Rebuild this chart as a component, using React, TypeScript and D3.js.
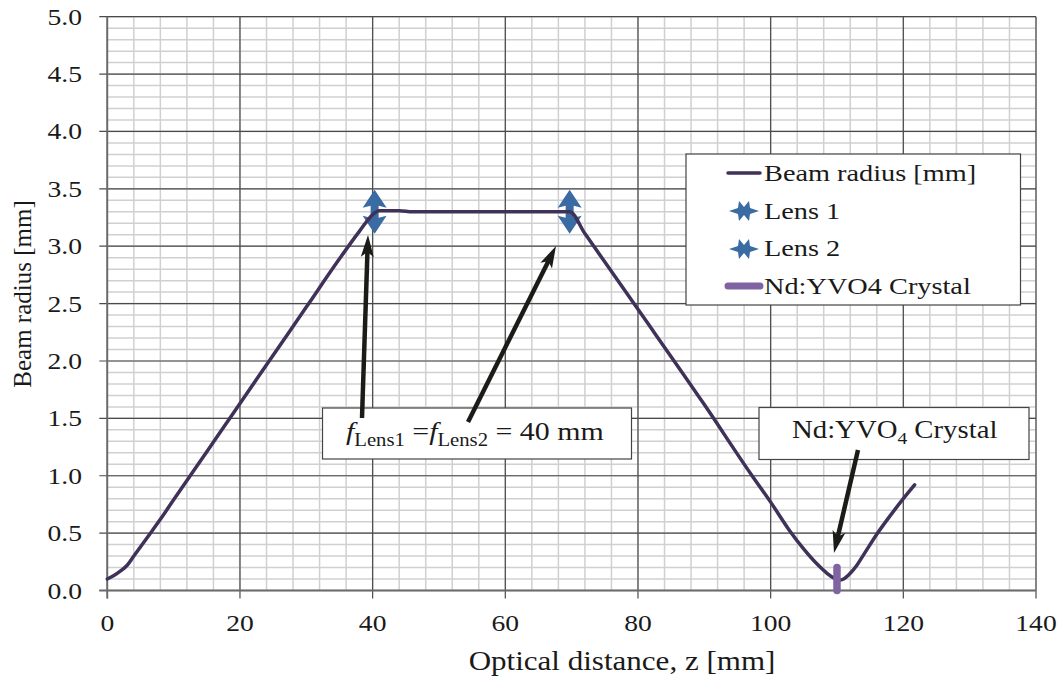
import React from "react";
import * as d3 from "d3";

const beamZ = [0, 1, 2, 3, 4, 6, 8, 10, 15, 20, 25, 30, 35, 38, 40.3, 41, 44, 46, 60, 69.7, 72, 80, 90, 97.2, 100, 103, 105, 107, 108.5, 109.5, 110.3, 111, 112, 113, 114, 116, 118, 120, 121.7];
const beamR = [0.10, 0.13, 0.17, 0.22, 0.30, 0.46, 0.62, 0.79, 1.21, 1.63, 2.05, 2.47, 2.89, 3.13, 3.29, 3.31, 3.31, 3.30, 3.30, 3.30, 3.11, 2.45, 1.62, 1.00, 0.77, 0.51, 0.36, 0.23, 0.15, 0.11, 0.09, 0.10, 0.15, 0.22, 0.31, 0.49, 0.65, 0.80, 0.92];
const lensZ = [40.3, 69.7];
const lensR = [3.3, 3.3];
const crystalZ = [110, 110];
const crystalR = [0, 0.2];
const xTicks = [0, 20, 40, 60, 80, 100, 120, 140];
const yTicks = [0, 0.5, 1.0, 1.5, 2.0, 2.5, 3.0, 3.5, 4.0, 4.5, 5.0];
const legendLabels = ["Beam radius [mm]", "Lens 1", "Lens 2", "Nd:YVO4 Crystal"];

const FONT = "Liberation Serif, Times New Roman, serif";
const BEAM = "#3f3157";
const LENS = "#3a6ba3";
const CRYSTAL = "#8064a2";
const SX = 1.15;

const starV = "M0,-22 L12,-4 L4,-6 L4,6 L12,4 L0,22 L-12,4 L-4,6 L-4,-6 L-12,-4 Z";
const starH = "M15,0 L6,3 L5,10 L0,4 L-5,10 L-6,3 L-15,0 L-6,-3 L-5,-10 L0,-4 L5,-10 L6,-3 Z";

function T({ x, y, size, anchor = "start", sx = SX, children }: { x: number; y: number; size: number; anchor?: string; sx?: number; children: React.ReactNode }) {
  return (
    <text transform={`translate(${x},${y}) scale(${sx},1)`} textAnchor={anchor as any} fontSize={size} fill="#1a1a1a" style={{ fontFamily: FONT }}>
      {children}
    </text>
  );
}

function Arrow({ x1, y1, x2, y2 }: { x1: number; y1: number; x2: number; y2: number }) {
  const ang = Math.atan2(y2 - y1, x2 - x1);
  const L = 22, W = 6.5;
  const bx = x2 - L * Math.cos(ang), by = y2 - L * Math.sin(ang);
  const px = -Math.sin(ang), py = Math.cos(ang);
  const head = `M${x2},${y2} L${bx + W * px},${by + W * py} L${x2 - (L - 5) * Math.cos(ang)},${y2 - (L - 5) * Math.sin(ang)} L${bx - W * px},${by - W * py} Z`;
  return (
    <g>
      <line x1={x1} y1={y1} x2={x2 - 14 * Math.cos(ang)} y2={y2 - 14 * Math.sin(ang)} stroke="#1b1b17" strokeWidth={4.5} />
      <path d={head} fill="#1b1b17" />
    </g>
  );
}

export default function App() {
  const x = d3.scaleLinear().domain([0, 140]).range([107.3, 1036]);
  const y = d3.scaleLinear().domain([0, 5]).range([590.5, 16.7]);
  const minorX = d3.range(0, 140.01, 4);
  const minorY = d3.range(0, 5.001, 0.1);
  const line = d3.line<number>().x((_, i) => x(beamZ[i])).y((d) => y(d)).curve(d3.curveMonotoneX);

  return (
    <div style={{ position: "absolute", left: 0, top: 0 }}>
      <svg width={1064} height={682} style={{ display: "block", background: "#fff", fontFamily: FONT }}>
        {minorX.map((v, i) => (
          <line key={"mx" + i} x1={x(v)} x2={x(v)} y1={y(0)} y2={y(5)} stroke="#d0d0d0" strokeWidth={1.5} />
        ))}
        {minorY.map((v, i) => (
          <line key={"my" + i} x1={x(0)} x2={x(140)} y1={y(v)} y2={y(v)} stroke="#d0d0d0" strokeWidth={1.5} />
        ))}
        {xTicks.map((v) => (
          <line key={"gx" + v} x1={x(v)} x2={x(v)} y1={y(0) + 8} y2={y(5)} stroke="#4a4a4a" strokeWidth={1.2} />
        ))}
        {yTicks.map((v) => (
          <line key={"gy" + v} x1={x(0) - 8} x2={x(140)} y1={y(v)} y2={y(v)} stroke="#4a4a4a" strokeWidth={1.2} />
        ))}
        <line x1={x(0)} x2={x(0)} y1={y(0) + 8} y2={y(5)} stroke="#6a6a6a" strokeWidth={1.8} />
        <line x1={x(0) - 8} x2={x(140)} y1={y(0)} y2={y(0)} stroke="#6a6a6a" strokeWidth={1.8} />
        {yTicks.map((v) => (
          <T key={"ty" + v} x={82} y={y(v) + 8} size={24} anchor="end">{v.toFixed(1)}</T>
        ))}
        {xTicks.map((v) => (
          <T key={"tx" + v} x={x(v)} y={631} size={24} anchor="middle">{v}</T>
        ))}
        <T x={622} y={670} size={27} anchor="middle">Optical distance, z [mm]</T>
        <text transform={`translate(31,294) rotate(-90)`} textAnchor="middle" fontSize={25} fill="#1a1a1a" style={{ fontFamily: FONT }}>Beam radius [mm]</text>

        {lensZ.map((z, i) => (
          <path key={"lens" + i} d={starV} transform={`translate(${x(z)},${y(lensR[i])})`} fill={LENS} />
        ))}
        <path d={line(beamR) || ""} fill="none" stroke={BEAM} strokeWidth={3.5} strokeLinejoin="round" strokeLinecap="round" />
        <line x1={x(crystalZ[0])} x2={x(crystalZ[1])} y1={y(crystalR[0])} y2={y(crystalR[1])} stroke={CRYSTAL} strokeWidth={7.5} strokeLinecap="round" />

        <rect x={686} y={154} width={334.5} height={151} fill="#fff" stroke="#444" strokeWidth={1.2} />
        <line x1={728} x2={760} y1={173} y2={173} stroke={BEAM} strokeWidth={3.5} strokeLinecap="round" />
        <path d={starH} transform="translate(744,211)" fill={LENS} />
        <path d={starH} transform="translate(744,249)" fill={LENS} />
        <line x1={728} x2={760} y1={286} y2={286} stroke={CRYSTAL} strokeWidth={7} strokeLinecap="round" />
        {legendLabels.map((t, i) => (
          <T key={t} x={764} y={181 + i * 37.7} size={24} sx={1.18}>{t}</T>
        ))}

        <rect x={322.5} y={408} width={309} height={51} fill="#fff" stroke="#444" strokeWidth={1.2} />
        <T x={346} y={440} size={26}>
          <tspan fontStyle="italic">f</tspan>
          <tspan fontSize={18} dy={6}>Lens1</tspan>
          <tspan dy={-6}> =</tspan>
          <tspan fontStyle="italic">f</tspan>
          <tspan fontSize={18} dy={6}>Lens2</tspan>
          <tspan dy={-6}> = 40 mm</tspan>
        </T>
        <rect x={759} y={407.5} width={270} height={52} fill="#fff" stroke="#444" strokeWidth={1.2} />
        <T x={792} y={438} size={25}>
          <tspan>Nd:YVO</tspan>
          <tspan fontSize={17} dy={6}>4</tspan>
          <tspan dy={-6}> Crystal</tspan>
        </T>

        <Arrow x1={362} y1={418} x2={368} y2={235} />
        <Arrow x1={468} y1={422} x2={556} y2={246} />
        <Arrow x1={858} y1={450} x2={834} y2={553} />
      </svg>
    </div>
  );
}
